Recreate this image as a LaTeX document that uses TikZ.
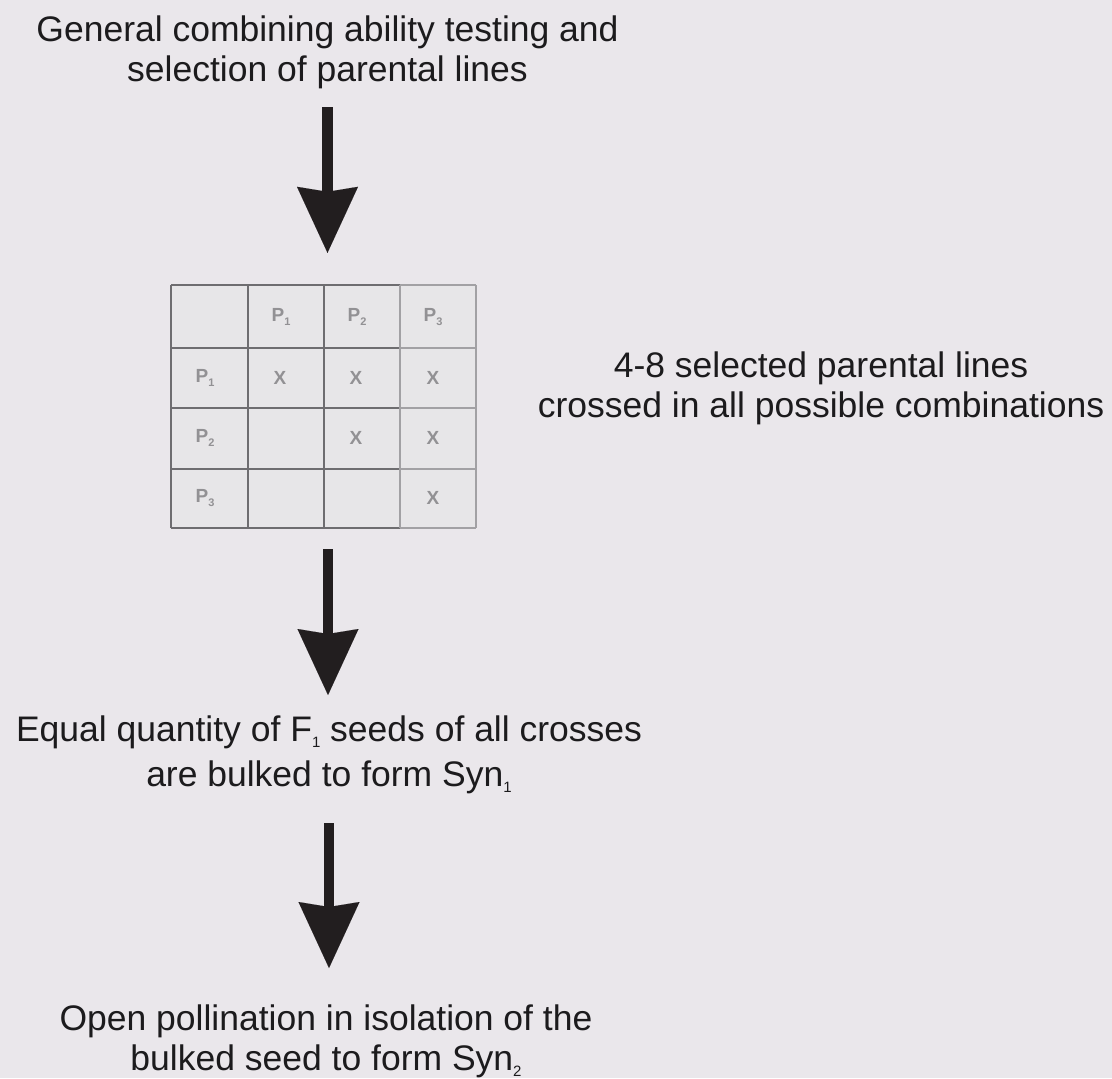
\documentclass[tikz,border=0pt]{standalone}
\usepackage{fontspec}
\setmainfont{Liberation Sans}
\usetikzlibrary{arrows.meta}

\definecolor{paper}{HTML}{EAE7EB}
\definecolor{ink}{HTML}{1C1B1D}
\definecolor{arrowink}{HTML}{221E1F}
\definecolor{cellfill}{HTML}{E7E6E8}
\definecolor{ruledark}{HTML}{6E6D70}
\definecolor{rulelight}{HTML}{A2A1A4}
\definecolor{cellink}{HTML}{929194}

% lowered index for the main texts and for the table labels
\newcommand\lowidx[1]{\raisebox{-6pt}{\fontsize{15}{15}\selectfont #1}}
\newcommand\parent[1]{P\raisebox{-4pt}{\fontsize{11}{11}\selectfont #1}}

\begin{document}
\begin{tikzpicture}[x=1pt, y=-1pt,
  txt/.style={inner sep=0pt, align=center, text=ink,
    font=\fontsize{35.5}{40}\selectfont},
  bigarrow/.style={draw=arrowink, line width=10.5pt,
    -{Stealth[length=66pt, width=61pt, inset=5pt, line width=0.01pt]}},
  darkrule/.style={draw=ruledark, line width=2.5pt},
  lightrule/.style={draw=rulelight, line width=2.5pt},
  cell/.style={inner sep=0pt, text=cellink,
    font=\fontsize{19}{19}\selectfont\bfseries}]

  % page
  \fill[paper] (0,0) rectangle (1112,1078);

  % text blocks
  \node[txt, anchor=north] (title) at (327.5,16)
    {General combining ability testing and\\selection of parental lines};
  \node[txt, anchor=north] (side) at (821,352)
    {4-8 selected parental lines\\crossed in all possible combinations};
  \node[txt, anchor=north, font=\fontsize{35.5}{45}\selectfont] (bulk) at (329,716)
    {Equal quantity of F\lowidx{1} seeds of all crosses\\are bulked to form Syn\lowidx{1}};
  \node[txt, anchor=north] (open) at (326,1005)
    {Open pollination in isolation of the\\bulked seed to form Syn\lowidx{2}};

  % crossing table
  \node[fill=cellfill, inner sep=0pt, minimum width=305pt, minimum height=243pt]
    (grid) at (323.5,406.5) {};
  \foreach \y in {285,348,408,469,528} {
    \draw[darkrule] (171,\y) -- (400,\y);
    \draw[lightrule] (400,\y) -- (476,\y);
  }
  \foreach \x in {171,248,324} \draw[darkrule] (\x,285) -- (\x,528);
  \foreach \x in {400,476} \draw[lightrule] (\x,285) -- (\x,528);

  % header row and first column
  \node[cell] (h1) at (281,317) {\parent{1}};
  \node[cell] (h2) at (357,317) {\parent{2}};
  \node[cell] (h3) at (433,317) {\parent{3}};
  \node[cell] (r1) at (205,378) {\parent{1}};
  \node[cell] (r2) at (205,438) {\parent{2}};
  \node[cell] (r3) at (205,498) {\parent{3}};

  % crosses
  \node[cell] (c12) at (280,378) {X};
  \node[cell] (c13) at (356,378) {X};
  \node[cell] (c14) at (433,378) {X};
  \node[cell] (c23) at (356,438) {X};
  \node[cell] (c24) at (433,438) {X};
  \node[cell] (c34) at (433,498) {X};

  % flow arrows
  \draw[bigarrow, shorten <=18pt, shorten >=32pt]
    (title.south) -- (title.south |- grid.north);
  \draw[bigarrow, shorten <=21pt, shorten >=21pt]
    ([xshift=4.5pt]grid.south) -- ([xshift=4.5pt]grid.south |- bulk.north);
  \draw[bigarrow, shorten <=29pt, shorten >=37pt]
    (bulk.south) -- (bulk.south |- open.north);
\end{tikzpicture}
\end{document}
